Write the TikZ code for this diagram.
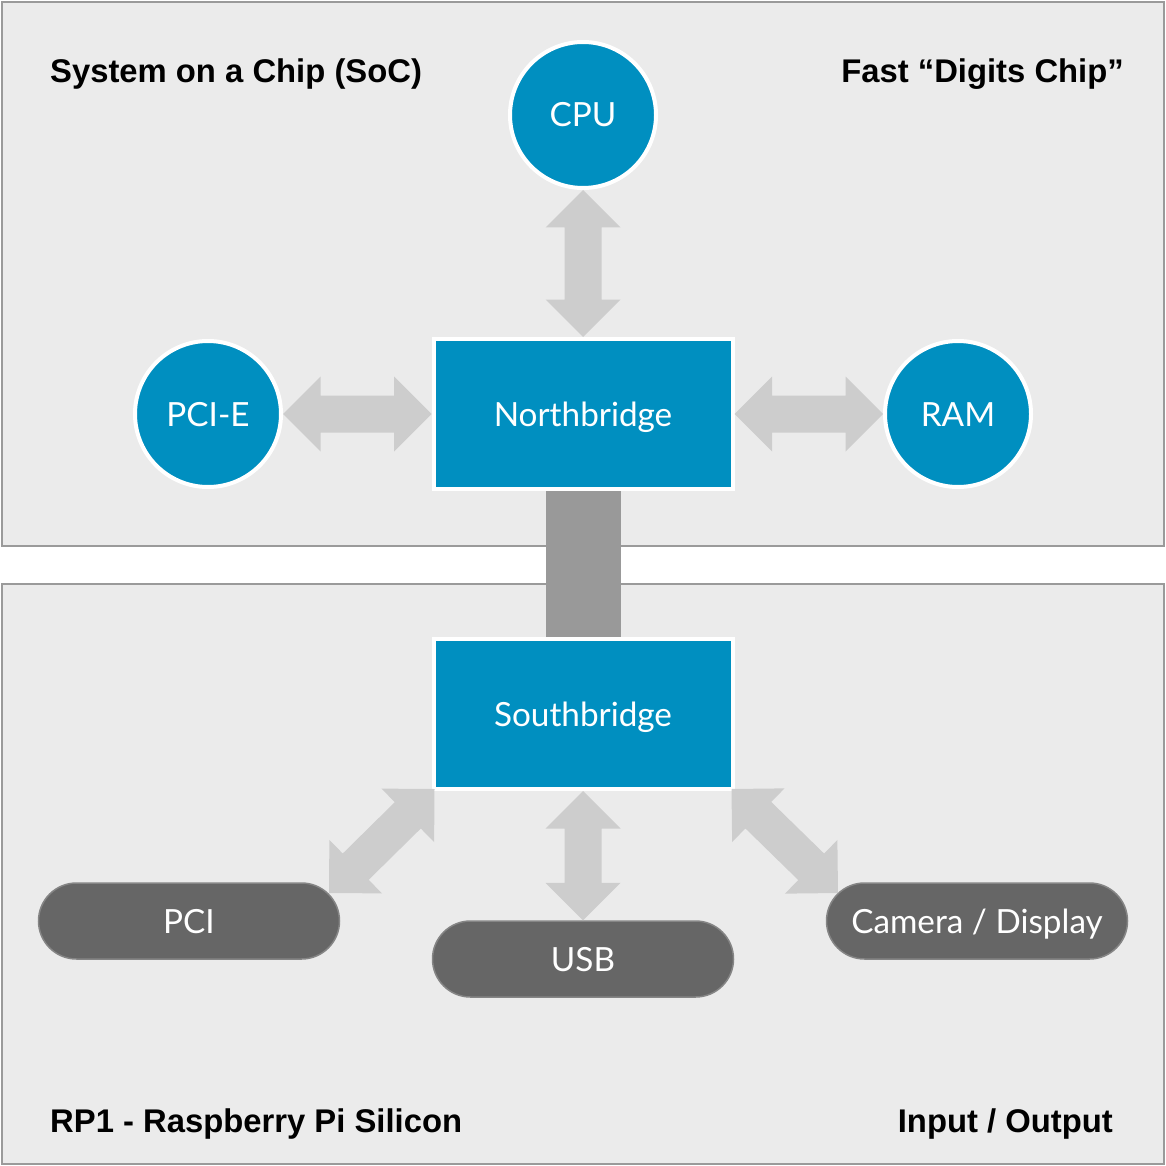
\documentclass[tikz,border=0pt]{standalone}
\usepackage{fontspec}
\usetikzlibrary{calc,shapes.misc}
\newfontfamily\latofont{Lato}
\newfontfamily\titlefont{Liberation Sans}
\definecolor{panelfill}{HTML}{EBEBEB}
\definecolor{panelline}{HTML}{9A9A9A}
\definecolor{chipblue}{HTML}{008FC0}
\definecolor{arrowfill}{HTML}{CDCDCD}
\definecolor{linkgray}{HTML}{999999}
\definecolor{pillfill}{HTML}{666666}
\definecolor{pillline}{HTML}{858585}
\newcommand\ah{37.5pt}
\newcommand\aw{37.5pt}
\newcommand\sw{18.5pt}
\newcommand\fatarrow[2]{%
  \coordinate (P1) at ($(#1)!\ah!(#2)$);
  \coordinate (P2) at ($(#2)!\ah!(#1)$);
  \fill[arrowfill] (#1)
    -- ($(P1)!\aw!90:(#2)$) -- ($(P1)!\sw!90:(#2)$)
    -- ($(P2)!\sw!-90:(#1)$) -- ($(P2)!\aw!-90:(#1)$)
    -- (#2)
    -- ($(P2)!\aw!90:(#1)$) -- ($(P2)!\sw!90:(#1)$)
    -- ($(P1)!\sw!-90:(#2)$) -- ($(P1)!\aw!-90:(#2)$)
    -- cycle;}
\begin{document}
\begin{tikzpicture}[x=1pt,y=-1pt,
  panel/.style={fill=panelfill,draw=panelline,line width=2pt},
  title/.style={font=\titlefont\bfseries\fontsize{32.8}{38}\selectfont,text=black,inner sep=0pt},
  nodetext/.style={text=white,font=\latofont\fontsize{33.3}{38}\selectfont,text height=24pt,text depth=0pt},
  circ/.style={nodetext,circle,fill=chipblue,draw=white,line width=4pt,minimum size=146pt,inner sep=0pt},
  bridge/.style={nodetext,rectangle,fill=chipblue,draw=white,line width=4pt,minimum width=299pt,minimum height=150pt,inner sep=0pt},
  pill/.style={nodetext,rounded rectangle,fill=pillfill,draw=pillline,line width=1.5pt,minimum width=301pt,minimum height=76pt,inner sep=0pt},
  link/.style={draw=linkgray,line width=75pt}]
\useasboundingbox (0,0) rectangle (1166,1166);
% panels
\draw[panel] (2,2) rectangle (1164,546);
\draw[panel] (2,584) rectangle (1164,1164);
% titles
\node[title,anchor=base west] (t1) at (50,83) {System on a Chip (SoC)};
\node[title,anchor=base east] (t2) at (1124,83) {Fast “Digits Chip”};
\node[title,anchor=base west] (t3) at (50,1132) {RP1 - Raspberry Pi Silicon};
\node[title,anchor=base east] (t4) at (1113,1132) {Input / Output};
% nodes
\node[circ] (cpu) at (583,115) {CPU};
\node[circ] (pcie) at (208,414) {PCI-E};
\node[circ] (ram) at (958,414) {RAM};
\node[bridge] (nb) at (583,414) {Northbridge};
\node[bridge] (sb) at (583,714) {Southbridge};
\node[pill] (pci) at (189,921) {PCI};
\node[pill] (usb) at (583,959) {USB};
\node[pill] (cam) at (977,921) {Camera / Display};
% link
\draw[link] (nb.south) -- (sb.north);
% arrow end points
\coordinate (pcitip) at (329,893);
\coordinate (camtip) at (838,893);
\coordinate (sbsw) at ($(sb.south west)+(3,-2)$);
\coordinate (sbse) at ($(sb.south east)+(-3,-2)$);
\fatarrow{cpu.south}{nb.north}
\fatarrow{pcie.east}{nb.west}
\fatarrow{nb.east}{ram.west}
\fatarrow{sb.south}{usb.north}
\fatarrow{sbsw}{pcitip}
\fatarrow{sbse}{camtip}
\end{tikzpicture}
\end{document}
